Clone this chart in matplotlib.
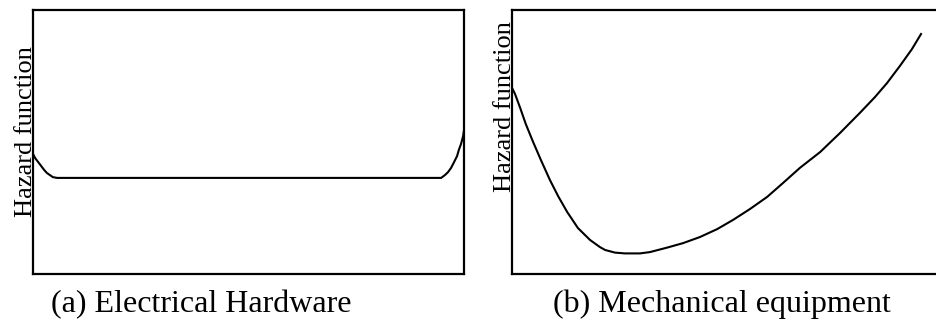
import matplotlib
matplotlib.use("Agg")
import matplotlib.pyplot as plt

plt.rcParams["font.family"] = ["Liberation Serif", "DejaVu Serif"]

W, H = 936, 325

# (a) electrical hardware: bathtub with flat bottom
elec_x = [0.0, 0.005, 0.012, 0.019, 0.026, 0.032, 0.039, 0.046, 0.056,
          0.947, 0.956, 0.963, 0.970, 0.977, 0.984, 0.988, 0.993, 0.998, 1.0]
elec_y = [0.455, 0.439, 0.424, 0.409, 0.394, 0.383, 0.375, 0.367, 0.364,
          0.364, 0.375, 0.386, 0.402, 0.424, 0.447, 0.470, 0.492, 0.523, 0.545]

# (b) mechanical equipment
mech_x = [0.0, 0.007, 0.019, 0.032, 0.049, 0.067, 0.088, 0.107, 0.128, 0.153,
          0.181, 0.204, 0.216, 0.239, 0.262, 0.297, 0.320, 0.360, 0.397, 0.436,
          0.476, 0.513, 0.552, 0.592, 0.629, 0.668, 0.715, 0.761, 0.807, 0.842,
          0.870, 0.900, 0.928, 0.949]
mech_y = [0.705, 0.682, 0.629, 0.568, 0.500, 0.432, 0.356, 0.295, 0.235, 0.174,
          0.129, 0.102, 0.091, 0.081, 0.078, 0.078, 0.083, 0.100, 0.117, 0.140,
          0.170, 0.205, 0.246, 0.292, 0.345, 0.402, 0.462, 0.534, 0.610, 0.670,
          0.723, 0.788, 0.852, 0.909]

ylabel = "Hazard function"
captions = ["(a) Electrical Hardware", "(b) Mechanical equipment"]


def px_box(x0, y0, x1, y1):
    return [x0 / W, 1 - y1 / H, (x1 - x0) / W, (y1 - y0) / H]


fig = plt.figure(figsize=(W / 100, H / 100), dpi=100)
ax_a = fig.add_axes(px_box(33, 10, 464, 274))
ax_b = fig.add_axes(px_box(512, 10, 943, 274))

ax_a.plot(elec_x, elec_y, color="black", lw=1.5, solid_joinstyle="round")
ax_b.plot(mech_x, mech_y, color="black", lw=1.5, solid_joinstyle="round")

for ax in (ax_a, ax_b):
    ax.set_xlim(0, 1)
    ax.set_ylim(0, 1)
    ax.set_xticks([])
    ax.set_yticks([])
    for s in ax.spines.values():
        s.set_linewidth(1.6)

# y labels, rotated, baseline against the axis
for bx, cy in [(32, 132), (511, 107)]:
    fig.text(bx / W, 1 - cy / H, ylabel, rotation=90, rotation_mode="anchor",
             ha="center", va="baseline", fontsize=19)

for cx, text in [(201, captions[0]), (722, captions[1])]:
    fig.text(cx / W, 1 - 312 / H, text, ha="center", va="baseline", fontsize=23)

fig.savefig("out.png", dpi=100)
